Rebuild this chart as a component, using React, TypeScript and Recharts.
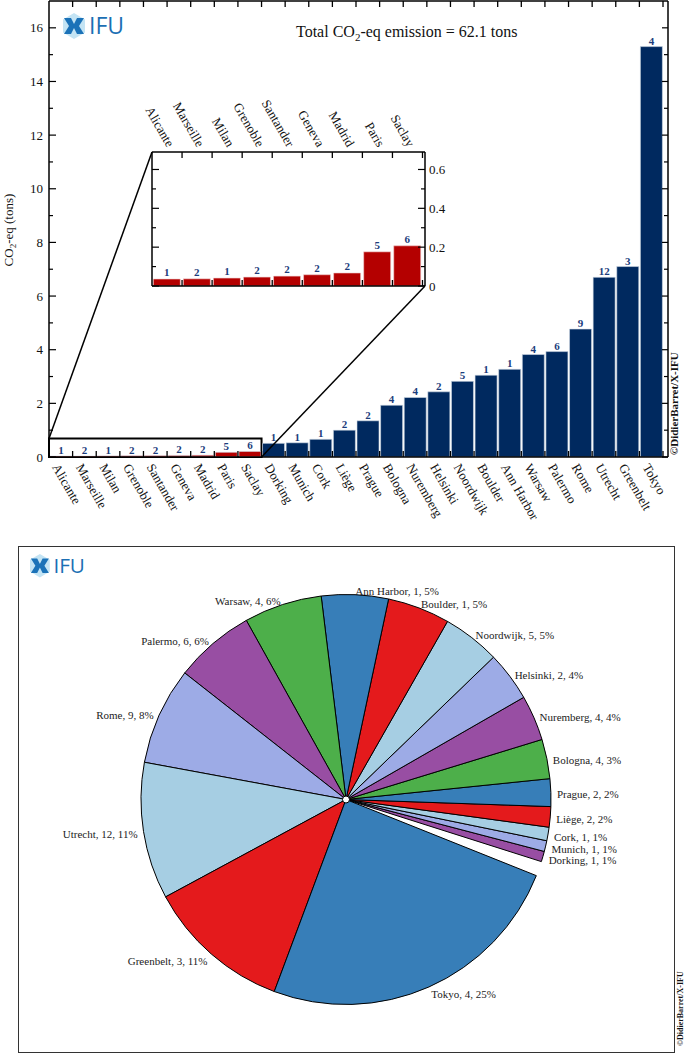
import React from "react";
import {
  BarChart, Bar, XAxis, YAxis, Cell, LabelList, ReferenceArea,
  PieChart, Pie,
} from "recharts";

// cities sorted by emission, the first 9 are the ones shown in the zoom inset
const cities = [
  "Alicante", "Marseille", "Milan", "Grenoble", "Santander", "Geneva", "Madrid",
  "Paris", "Saclay", "Dorking", "Munich", "Cork", "Liège", "Prague", "Bologna",
  "Nuremberg", "Helsinki", "Noordwijk", "Boulder", "Ann Harbor", "Warsaw",
  "Palermo", "Rome", "Utrecht", "Greenbelt", "Tokyo",
];
// tons of CO2-eq per city
const emissions = [
  0.036, 0.037, 0.041, 0.046, 0.051, 0.058, 0.067, 0.176, 0.207,
  0.51, 0.53, 0.66, 1.0, 1.35, 1.93, 2.22, 2.43, 2.82, 3.05, 3.27,
  3.82, 3.93, 4.77, 6.7, 7.1, 15.3,
];
// number shown above each bar
const counts = [
  1, 2, 1, 2, 2, 2, 2, 5, 6,
  1, 1, 1, 2, 2, 4, 4, 2, 5, 1, 1, 4, 6, 9, 12, 3, 4,
];
const ZOOM_COUNT = 9;

const mainTicks = [0, 1, 2, 3, 4, 5, 6, 7, 8, 9, 10, 11, 12, 13, 14, 15, 16];
const insetTicks = [0, 0.1, 0.2, 0.3, 0.4, 0.5, 0.6];
const insetLabels = ["0", "", "0.2", "", "0.4", "", "0.6"];
const pieColors = ["#984ea3", "#9dabe6", "#a6cee3", "#e41a1c", "#377eb8", "#4daf4a"];

const mainData = cities.map((city, i) => ({ city, value: emissions[i], count: counts[i] }));
const insetData = mainData.slice(0, ZOOM_COUNT);
const total = emissions.reduce((a, b) => a + b, 0);

const SERIF = "'Liberation Serif', 'DejaVu Serif', serif";
const NAVY = "#00295f";
const RED = "#b40000";
const LABEL_BLUE = "#1c3d7c";

// main chart geometry
const W = 685;
const MAIN_H = 540;
const PLOT_L = 49, PLOT_T = 1, PLOT_R = 668, PLOT_B = 457, PAD_R = 5;
const Y_MAX = 17;
const BAND = (PLOT_R - PAD_R - PLOT_L) / cities.length;

// inset geometry
const IN_X = 100, IN_Y = 95, IN_W = 360, IN_H = 200;
const IN_L = 152, IN_T = 152, IN_R = 425, IN_B = 286, IN_PAD_R = 2.5;
const IN_MAX = 0.69;
const IN_BAND = (IN_R - IN_PAD_R - IN_L) / ZOOM_COUNT;

// pie geometry
const PIE_TOP = 546;
const PIE_CX = 346, PIE_CY = 253.5, PIE_R = 205;
const RAD = Math.PI / 180;

const axisLine = { stroke: "#000", strokeWidth: 1.5 };

const BottomTick = (p: any) => (
  <g>
    <line x1={p.x + BAND / 2} x2={p.x + BAND / 2} y1={p.y} y2={p.y - 6} stroke="#000" strokeWidth={1.3} />
    <text transform={`translate(${p.x - 9},${p.y + 10}) rotate(60)`} fontSize={13} fontFamily={SERIF} fill="#111">
      {p.payload.value}
    </text>
  </g>
);
const TopTick = (p: any) => (
  <line x1={p.x + BAND / 2} x2={p.x + BAND / 2} y1={p.y} y2={p.y + 6} stroke="#000" strokeWidth={1.3} />
);
const LeftTick = (p: any) => {
  const v = p.payload.value;
  const major = v % 2 === 0;
  return (
    <g>
      <line x1={p.x} x2={p.x + (major ? 7 : 4)} y1={p.y} y2={p.y} stroke="#000" strokeWidth={1.2} />
      {major && (
        <text x={p.x - 6} y={p.y} textAnchor="end" dominantBaseline="central" fontSize={13} fontFamily={SERIF} fill="#111">
          {v}
        </text>
      )}
    </g>
  );
};
const RightTick = (p: any) => {
  const major = p.payload.value % 2 === 0;
  return <line x1={p.x} x2={p.x - (major ? 6 : 4)} y1={p.y} y2={p.y} stroke="#000" strokeWidth={1.2} />;
};

const InTopTick = (p: any) => (
  <g>
    <line x1={p.x + IN_BAND / 2} x2={p.x + IN_BAND / 2} y1={p.y} y2={p.y + 6} stroke="#000" strokeWidth={1.3} />
    <text transform={`translate(${p.x},${p.y - 4}) rotate(60)`} textAnchor="end" fontSize={13} fontFamily={SERIF} fill="#111">
      {p.payload.value}
    </text>
  </g>
);
const InBottomTick = (p: any) => (
  <line x1={p.x + IN_BAND / 2} x2={p.x + IN_BAND / 2} y1={p.y} y2={p.y - 6} stroke="#000" strokeWidth={1.3} />
);
const InLeftTick = (p: any) => {
  const major = Math.round(p.payload.value * 10) % 2 === 0;
  return <line x1={p.x} x2={p.x + (major ? 7 : 4)} y1={p.y} y2={p.y} stroke="#000" strokeWidth={1.2} />;
};
const InRightTick = (p: any) => {
  const major = Math.round(p.payload.value * 10) % 2 === 0;
  return (
    <g>
      <line x1={p.x} x2={p.x - (major ? 7 : 4)} y1={p.y} y2={p.y} stroke="#000" strokeWidth={1.2} />
      <text x={p.x + 4} y={p.y} dominantBaseline="central" fontSize={13} fontFamily={SERIF} fill="#111">
        {insetLabels[p.index]}
      </text>
    </g>
  );
};

const renderPieLabel = (p: any) => {
  const i = p.index;
  if (i < ZOOM_COUNT) return null;
  const r = 211;
  const x = p.cx + r * Math.cos(-p.midAngle * RAD);
  const y = p.cy + r * Math.sin(-p.midAngle * RAD) + 2;
  const pct = Math.round((emissions[i] / total) * 100);
  return (
    <text x={x} y={y} textAnchor={x > p.cx ? "start" : "end"} dominantBaseline="central"
      fontSize={11} fontFamily={SERIF} fill="#222">
      {`${cities[i]}, ${counts[i]}, ${pct}%`}
    </text>
  );
};

function IfuLogo({ x, y, s }: { x: number; y: number; s: number }) {
  return (
    <g transform={`translate(${x},${y}) scale(${s})`}>
      <polygon points="11,0 22,6.5 22,19.5 11,26 0,19.5 0,6.5" fill="#c4e4f4" />
      <polygon points="1,5 8,5 12,13 8,21 1,21 6,13" fill="#1b72b8" />
      <polygon points="21,5 14,5 10,13 14,21 21,21 16,13" fill="#1b72b8" />
      <text x={26} y={21} fontSize={23} fontFamily="'Open Sans', sans-serif" fill="#1b6fb4">IFU</text>
    </g>
  );
}

export default function App() {
  const ppu = (PLOT_B - PLOT_T) / Y_MAX;
  const zoomTop = PLOT_B - IN_MAX * ppu;
  const zoomRight = PLOT_L + ZOOM_COUNT * BAND;

  return (
    <div style={{ position: "absolute", left: 0, top: 0, width: W, height: 1054, background: "#fff" }}>
      <div style={{ position: "absolute", left: 0, top: 0 }}>
        <BarChart width={W} height={MAIN_H} data={mainData}
          margin={{ top: PLOT_T - 1, right: W - PLOT_R - 1, left: 0, bottom: 0 }} barCategoryGap={1}>
          <XAxis xAxisId="b" dataKey="city" orientation="bottom" height={MAIN_H - PLOT_B} interval={0}
            tickSize={0} tickMargin={0} tickLine={false} axisLine={axisLine}
            padding={{ left: 0, right: PAD_R }} tick={BottomTick} />
          <XAxis xAxisId="t" dataKey="city" orientation="top" height={1} interval={0}
            tickSize={0} tickMargin={0} tickLine={false} axisLine={axisLine}
            padding={{ left: 0, right: PAD_R }} tick={TopTick} />
          <YAxis yAxisId="l" width={PLOT_L} domain={[0, Y_MAX]} ticks={mainTicks} interval={0}
            allowDataOverflow tickSize={0} tickMargin={0} tickLine={false} axisLine={axisLine} tick={LeftTick} />
          <YAxis yAxisId="r" orientation="right" width={1} domain={[0, Y_MAX]} ticks={mainTicks} interval={0}
            allowDataOverflow tickSize={0} tickMargin={0} tickLine={false} axisLine={axisLine} tick={RightTick} />
          <Bar xAxisId="b" yAxisId="l" dataKey="value" stroke="#d4dde8" strokeWidth={0.6} isAnimationActive={false}>
            {mainData.map((d, i) => (
              <Cell key={d.city} fill={i < ZOOM_COUNT ? RED : NAVY} />
            ))}
            <LabelList dataKey="count" position="top" offset={2} fill={LABEL_BLUE}
              fontSize={11} fontWeight="bold" fontFamily={SERIF} />
          </Bar>
          <ReferenceArea xAxisId="b" yAxisId="l" x1={cities[0]} x2={cities[ZOOM_COUNT - 1]}
            y1={0} y2={IN_MAX} fill="none" fillOpacity={0} stroke="#000" strokeWidth={2} />
        </BarChart>
      </div>

      <svg width={W} height={MAIN_H} style={{ position: "absolute", left: 0, top: 0 }}>
        <line x1={PLOT_L} y1={zoomTop} x2={IN_L} y2={IN_T} stroke="#000" strokeWidth={1.5} />
        <line x1={zoomRight} y1={PLOT_B} x2={IN_R} y2={IN_B} stroke="#000" strokeWidth={1.5} />
        <text x={296} y={37} fontSize={16} fontFamily={SERIF} fill="#111">
          Total CO<tspan dy={4} fontSize={11}>2</tspan>
          <tspan dy={-4}>{`-eq emission = ${total.toFixed(1)} tons`}</tspan>
        </text>
        <text transform={`translate(13,230) rotate(-90)`} textAnchor="middle" fontSize={13} fontFamily={SERIF} fill="#111">
          CO<tspan dy={3} fontSize={9}>2</tspan><tspan dy={-3}>-eq (tons)</tspan>
        </text>
        <text transform={`translate(678,455) rotate(-90)`} fontSize={11} fontWeight="bold" fontFamily={SERIF} fill="#111">
          ©DidierBarret/X-IFU
        </text>
        <IfuLogo x={63} y={13} s={1} />
      </svg>

      <div style={{ position: "absolute", left: IN_X, top: IN_Y }}>
        <BarChart width={IN_W} height={IN_H} data={insetData}
          margin={{ top: 0, right: 0, left: IN_L - IN_X - 1, bottom: IN_Y + IN_H - IN_B - 1 }} barCategoryGap={1.3}>
          <XAxis xAxisId="t" dataKey="city" orientation="top" height={IN_T - IN_Y} interval={0}
            tickSize={0} tickMargin={0} tickLine={false} axisLine={axisLine}
            padding={{ left: 0, right: IN_PAD_R }} tick={InTopTick} />
          <XAxis xAxisId="b" dataKey="city" orientation="bottom" height={1} interval={0}
            tickSize={0} tickMargin={0} tickLine={false} axisLine={axisLine}
            padding={{ left: 0, right: IN_PAD_R }} tick={InBottomTick} />
          <YAxis yAxisId="l" width={1} domain={[0, IN_MAX]} ticks={insetTicks} interval={0}
            allowDataOverflow tickSize={0} tickMargin={0} tickLine={false} axisLine={axisLine} tick={InLeftTick} />
          <YAxis yAxisId="r" orientation="right" width={IN_X + IN_W - IN_R} domain={[0, IN_MAX]} ticks={insetTicks}
            interval={0} allowDataOverflow tickSize={0} tickMargin={0} tickLine={false} axisLine={axisLine} tick={InRightTick} />
          <Bar xAxisId="b" yAxisId="r" dataKey="value" fill={RED} stroke="#f0d0d0" strokeWidth={0.6} isAnimationActive={false}>
            <LabelList dataKey="count" position="top" offset={3} fill={LABEL_BLUE}
              fontSize={11} fontWeight="bold" fontFamily={SERIF} />
          </Bar>
        </BarChart>
      </div>

      <div style={{ position: "absolute", left: 18, top: PIE_TOP, width: 655, height: 505, border: "1.2px solid #333" }} />
      <div style={{ position: "absolute", left: 0, top: PIE_TOP }}>
        <PieChart width={W} height={508} margin={{ top: 0, right: 0, bottom: 0, left: 0 }}>
          <Pie data={mainData} dataKey="value" nameKey="city" cx={PIE_CX} cy={PIE_CY} outerRadius={PIE_R}
            startAngle={-21.8} endAngle={338.2} stroke="#000" strokeWidth={1}
            label={renderPieLabel} labelLine={false} isAnimationActive={false}>
            {mainData.map((d, i) => (
              <Cell key={d.city}
                fill={i < ZOOM_COUNT ? "#fff" : pieColors[(i - ZOOM_COUNT) % pieColors.length]}
                stroke={i < ZOOM_COUNT ? "none" : "#000"} />
            ))}
          </Pie>
        </PieChart>
      </div>
      <svg width={W} height={508} style={{ position: "absolute", left: 0, top: PIE_TOP, pointerEvents: "none" }}>
        <circle cx={PIE_CX} cy={PIE_CY} r={3.5} fill="#fff" stroke="#000" strokeWidth={1} />
        <IfuLogo x={30} y={8} s={0.9} />
        <text transform={`translate(683,500) rotate(-90)`} fontSize={8} fontWeight="bold" fontFamily={SERIF} fill="#111">
          ©DidierBarret/X-IFU
        </text>
      </svg>
    </div>
  );
}
